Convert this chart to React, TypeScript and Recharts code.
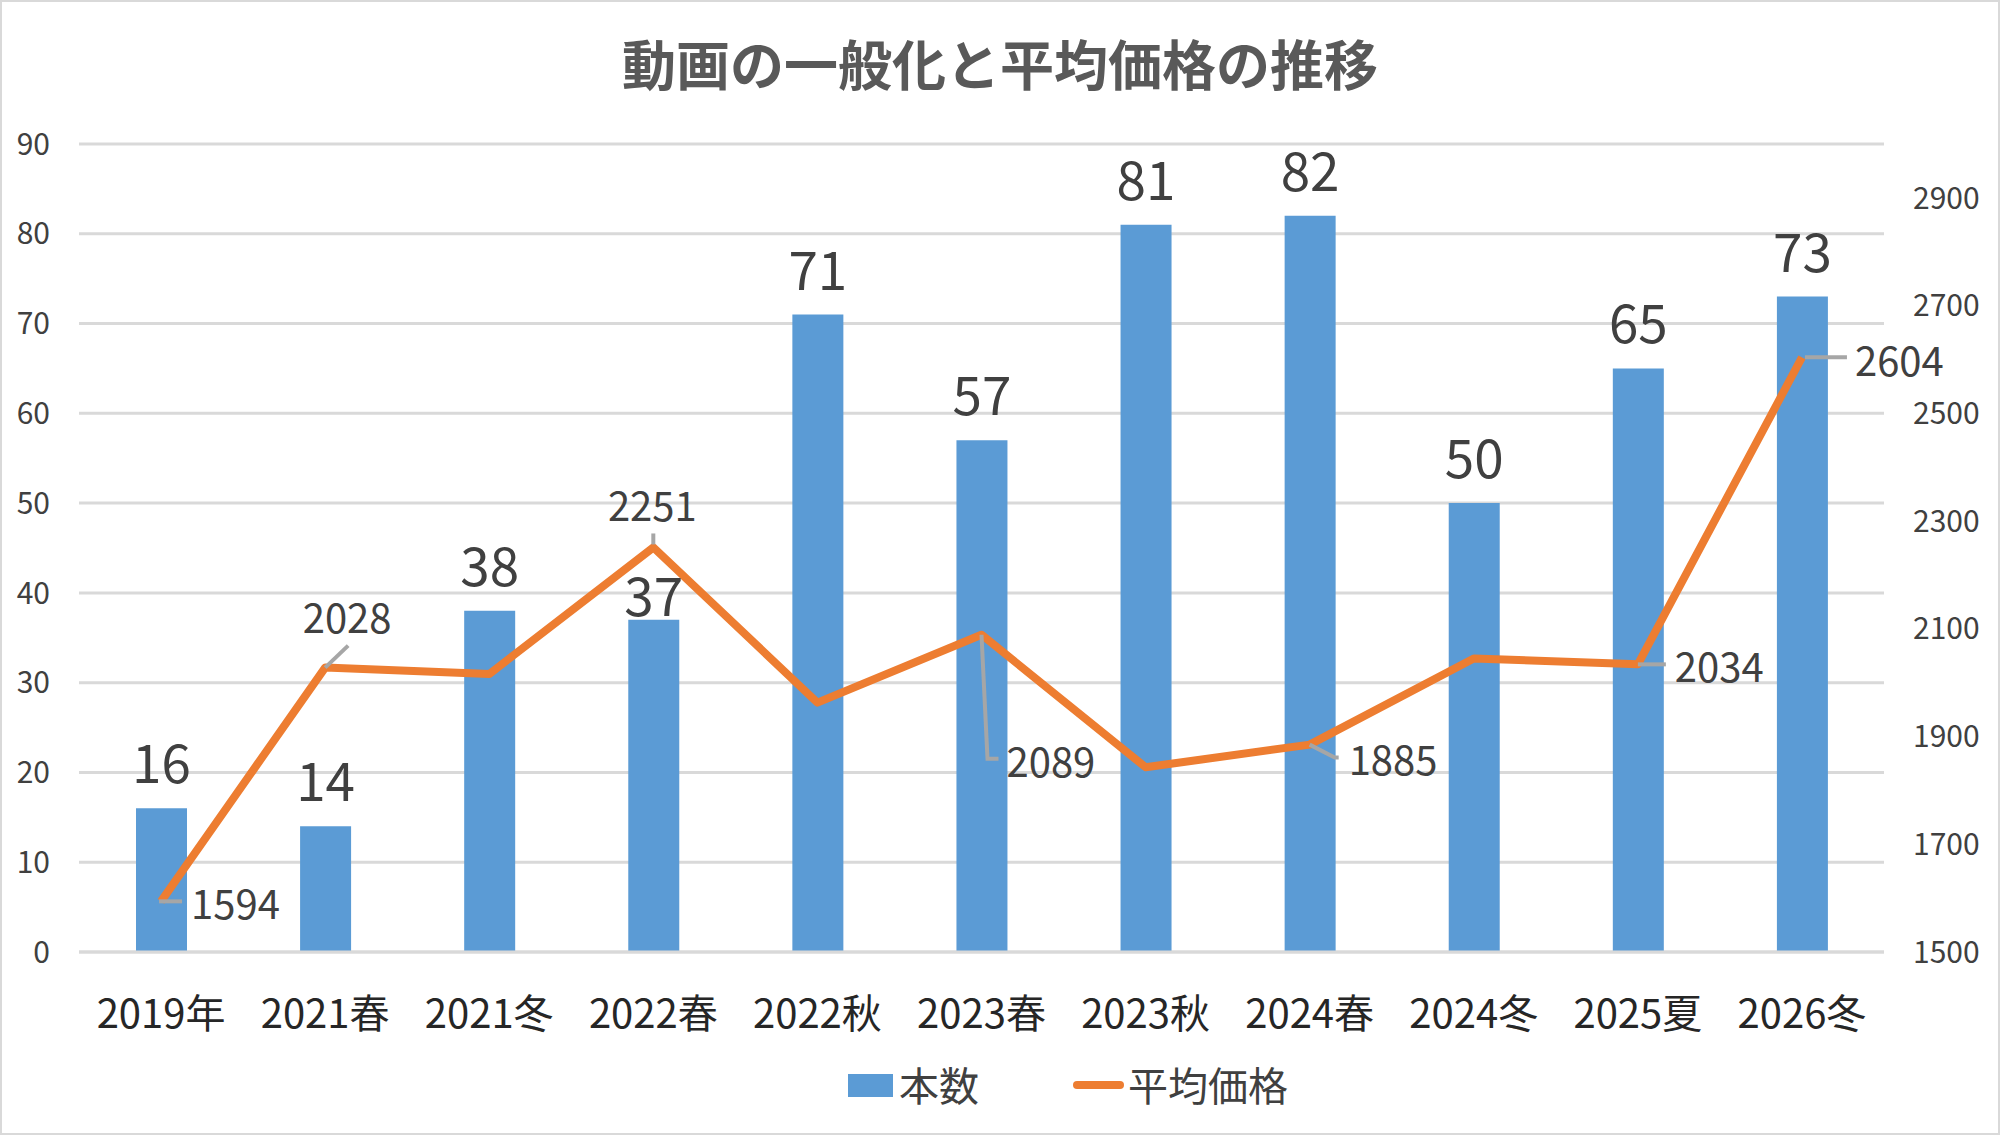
import { ComposedChart, Bar, Line, XAxis, YAxis, CartesianGrid, LabelList } from 'recharts';

const categories = ['2019年', '2021春', '2021冬', '2022春', '2022秋', '2023春', '2023秋', '2024春', '2024冬', '2025夏', '2026冬'];
const counts = [16, 14, 38, 37, 71, 57, 81, 82, 50, 65, 73];
const avgPrices = [1594, 2028, 2016, 2251, 1963, 2089, 1843, 1885, 2045, 2034, 2604];
// only these points carry a value label in the original
const labeledPrices = [true, true, false, true, false, true, false, true, false, true, true];

const leftTicks = [0, 10, 20, 30, 40, 50, 60, 70, 80, 90];
const rightTicks = [1500, 1700, 1900, 2100, 2300, 2500, 2700, 2900];

const FONT = "'Noto Sans CJK JP', 'Noto Sans', sans-serif";
const BLUE = '#5B9BD5';
const ORANGE = '#ED7D31';
const GRID = '#D9D9D9';
const LEADER = '#A6A6A6';

// label placement relative to the point, with leader line vertices
const priceLabelPlacement: Record<number, { dx: number; dy: number; anchor: 'start' | 'middle'; leader: number[][] }> = {
  0: { dx: 30, dy: 1, anchor: 'start', leader: [[-2, 0], [21, 0]] },
  1: { dx: 22, dy: -52, anchor: 'middle', leader: [[0, 0], [23, -22]] },
  3: { dx: -1, dy: -43, anchor: 'middle', leader: [[0, -3], [0, -14]] },
  5: { dx: 25, dy: 125, anchor: 'start', leader: [[0, 0], [6, 124], [17, 124]] },
  7: { dx: 39, dy: 13, anchor: 'start', leader: [[0, 0], [25, 13], [29, 13]] },
  9: { dx: 37, dy: 1, anchor: 'start', leader: [[0, 0], [28, 0]] },
  10: { dx: 53, dy: 2, anchor: 'start', leader: [[3, 0], [45, 0]] },
};

const data = categories.map((name, i) => ({ name, count: counts[i], price: avgPrices[i] }));

const BarValueLabel = (props: any) => {
  const { x, y, width, value, index } = props;
  const lift = index === 3 ? 27 : 48;
  return (
    <text x={x + width / 2} y={y - lift} textAnchor="middle" dominantBaseline="central"
      fontFamily={FONT} fontSize={53} fill="#404040">{value}</text>
  );
};

const PriceLabel = (props: any) => {
  const { x, y, value, index } = props;
  if (!labeledPrices[index]) return null;
  const p = priceLabelPlacement[index];
  if (!p) return null;
  const pts = p.leader.map(([dx, dy]) => `${x + dx},${y + dy}`).join(' ');
  return (
    <g>
      <polyline points={pts} fill="none" stroke={LEADER} strokeWidth={4} />
      <text x={x + p.dx} y={y + p.dy} textAnchor={p.anchor} dominantBaseline="central"
        fontFamily={FONT} fontSize={40} fill="#404040">{value}</text>
    </g>
  );
};

const XTick = (props: any) => {
  const { x, y, payload } = props;
  return (
    <text x={x} y={y + 59} textAnchor="middle" dominantBaseline="central"
      fontFamily={FONT} fontSize={40} fill="#262626">{payload.value}</text>
  );
};

const App = () => {
  return (
    <div style={{ position: 'relative', width: 2000, height: 1135, background: '#fff' }}>
      <style>{'body{margin:0;}'}</style>
      <ComposedChart width={2000} height={1135} data={data} margin={{ top: 144, right: 0, bottom: 0, left: 0 }}>
        <CartesianGrid yAxisId="left" vertical={false} stroke={GRID} strokeWidth={3} />
        <XAxis dataKey="name" height={183} tick={<XTick />} tickLine={false} tickSize={0} tickMargin={0}
          axisLine={{ stroke: GRID, strokeWidth: 3 }} interval={0} />
        <YAxis yAxisId="left" orientation="left" width={79} domain={[0, 90]} ticks={leftTicks}
          axisLine={false} tickLine={false} tickSize={0} tickMargin={29}
          tick={{ fontFamily: FONT, fontSize: 30, fill: '#404040' }} />
        <YAxis yAxisId="right" orientation="right" width={116} domain={[1500, 3000]} ticks={rightTicks}
          axisLine={false} tickLine={false} tickSize={0} tickMargin={29} allowDataOverflow
          tick={{ fontFamily: FONT, fontSize: 30, fill: '#404040', textAnchor: 'start' }} />
        <Bar yAxisId="left" dataKey="count" name="本数" fill={BLUE} barSize={51} isAnimationActive={false}>
          <LabelList dataKey="count" content={<BarValueLabel />} />
        </Bar>
        <Line yAxisId="right" dataKey="price" name="平均価格" type="linear" stroke={ORANGE} strokeWidth={8}
          strokeLinejoin="round" dot={false} activeDot={false} isAnimationActive={false}>
          <LabelList dataKey="price" content={<PriceLabel />} />
        </Line>
      </ComposedChart>
      <svg width={2000} height={1135} style={{ position: 'absolute', left: 0, top: 0, pointerEvents: 'none' }}>
        <text x={1000} y={62} textAnchor="middle" dominantBaseline="central" fontFamily={FONT}
          fontSize={54} fontWeight="bold" fill="#595959">動画の一般化と平均価格の推移</text>
        <rect x={848} y={1074} width={45} height={23} fill={BLUE} />
        <text x={899} y={1084} dominantBaseline="central" fontFamily={FONT} fontSize={40} fill="#404040">本数</text>
        <line x1={1077} y1={1085} x2={1120} y2={1085} stroke={ORANGE} strokeWidth={8} strokeLinecap="round" />
        <text x={1128} y={1084} dominantBaseline="central" fontFamily={FONT} fontSize={40} fill="#404040">平均価格</text>
        <rect x={1} y={1} width={1998} height={1133} fill="none" stroke={GRID} strokeWidth={2} />
      </svg>
    </div>
  );
};

export default App;
